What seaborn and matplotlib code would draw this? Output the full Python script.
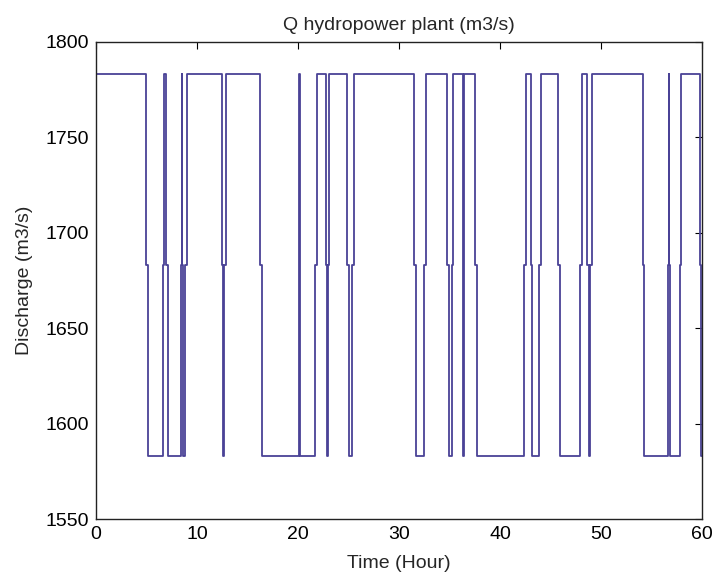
import matplotlib
matplotlib.use("Agg")
import matplotlib.pyplot as plt
import seaborn as sns
import pandas as pd

# Discharge levels (m3/s)
HIGH = 1783
MID = 1683
LOW = 1583

# Switching instants (hours); each switch passes briefly through MID
step_times = [
    0.0,
    4.96, 5.15,
    6.64, 6.78,
    6.97, 7.11,
    8.43, 8.47,
    8.53, 8.57,
    8.83, 9.00,
    12.47, 12.62,
    12.68, 12.84,
    16.26, 16.43,
    20.10, 20.14,
    20.20, 20.24,
    21.72, 21.85,
    22.78, 22.90,
    22.98, 23.10,
    24.86, 25.02,
    25.36, 25.52,
    31.47, 31.64,
    32.46, 32.63,
    34.78, 34.94,
    35.21, 35.38,
    36.30, 36.34,
    36.40, 36.44,
    37.52, 37.72,
    42.38, 42.55,
    43.04, 43.21,
    43.87, 44.03,
    45.75, 45.92,
    47.93, 48.10,
    48.60, 48.77,
    48.92, 49.10,
    54.12, 54.28,
    56.66, 56.70,
    56.76, 56.80,
    57.78, 57.90,
    59.85, 59.95,
    60.0,
]
# Discharge held from each switching instant on
step_levels = [
    HIGH,
    MID, LOW,    # 4.96
    MID, HIGH,   # 6.64
    MID, LOW,    # 6.97
    MID, HIGH,   # 8.43
    MID, LOW,    # 8.53
    MID, HIGH,   # 8.83
    MID, LOW,    # 12.47
    MID, HIGH,   # 12.68
    MID, LOW,    # 16.26
    MID, HIGH,   # 20.10
    MID, LOW,    # 20.20
    MID, HIGH,   # 21.72
    MID, LOW,    # 22.78
    MID, HIGH,   # 22.98
    MID, LOW,    # 24.86
    MID, HIGH,   # 25.36
    MID, LOW,    # 31.47
    MID, HIGH,   # 32.46
    MID, LOW,    # 34.78
    MID, HIGH,   # 35.21
    MID, LOW,    # 36.30
    MID, HIGH,   # 36.40
    MID, LOW,    # 37.52
    MID, HIGH,   # 42.38
    MID, LOW,    # 43.04
    MID, HIGH,   # 43.87
    MID, LOW,    # 45.75
    MID, HIGH,   # 47.93
    MID, LOW,    # 48.60
    MID, HIGH,   # 48.92
    MID, LOW,    # 54.12
    MID, HIGH,   # 56.66
    MID, LOW,    # 56.76
    MID, HIGH,   # 57.78
    MID, LOW,    # 59.85
    LOW,
]

x_ticks = [0, 10, 20, 30, 40, 50, 60]
y_ticks = [1550, 1600, 1650, 1700, 1750, 1800]

df = pd.DataFrame({"time": step_times, "discharge": step_levels})

sns.set_theme(style="white")
plt.rcParams["font.family"] = ["Liberation Sans", "DejaVu Sans"]

fig = plt.figure(figsize=(7.12, 5.79), dpi=100)
ax = fig.add_axes([96 / 712, 1 - 519 / 579, 606 / 712, 477 / 579])

sns.lineplot(data=df, x="time", y="discharge", estimator=None, sort=False,
             drawstyle="steps-post", color="#4a4296", linewidth=1.3, ax=ax)

ax.set_xlim(0, 60)
ax.set_ylim(1550, 1800)
ax.set_xticks(x_ticks)
ax.set_yticks(y_ticks)
ax.tick_params(direction="in", top=True, right=True, length=5, width=0.8,
               labelsize=14, colors="black", pad=5)
for side in ax.spines.values():
    side.set_color("#222222")
    side.set_linewidth(1.0)

ax.set_title("Q hydropower plant (m3/s)", fontsize=14, pad=9)
ax.set_xlabel("Time (Hour)", fontsize=14, labelpad=9)
ax.set_ylabel("Discharge (m3/s)", fontsize=14, labelpad=9)

fig.savefig("out.png", dpi=100, facecolor="white")
